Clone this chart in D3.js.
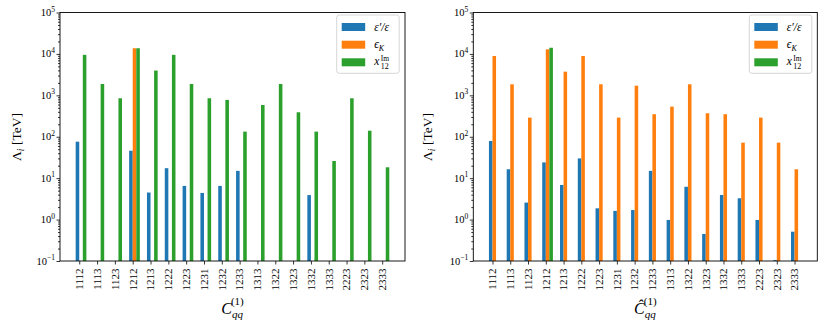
<!DOCTYPE html>
<html><head><meta charset="utf-8">
<script src="https://cdn.jsdelivr.net/npm/d3@7"></script>
<style>body{margin:0;background:#fff}svg{display:block}svg text{font-family:"Liberation Serif","DejaVu Serif","Times New Roman",Times,serif}</style>
</head><body><svg id="c" width="830" height="327"></svg>
<script>
const categories = ["1112","1113","1123","1212","1213","1222","1223","1231","1232","1233","1313","1322","1323","1332","1333","2223","2323","2333"];
// Left panel: C_qq^(1)
const leftEps   = [76,null,null,46,4.5,17.4,6.5,4.4,6.5,15,null,null,null,3.9,null,null,null,null];
const leftEpsK  = [null,null,null,13700,null,null,null,null,null,null,null,null,null,null,null,null,null,null];
const leftX12   = [9500,1880,850,13700,3970,9500,1880,850,776,133,585,1880,390,133,26,850,140,18.3];
// Right panel: hat C_qq^(1)
const rightEps  = [79,16.4,2.57,24,6.85,30,1.87,1.62,1.7,15,0.98,6.2,0.45,3.93,3.27,0.98,0.105,0.51];
const rightEpsK = [8900,1850,290,12900,3730,8900,1850,290,1710,350,533,1850,369,350,72,290,72,16.4];
const rightX12  = [null,null,null,14100,null,null,null,null,null,null,null,null,null,null,null,null,null,null];
const yTicks = [-1,0,1,2,3,4,5];
const colors = ["#1f77b4","#ff7f0e","#2ca02c"];

const svg = d3.select("#c");
const yTop = 12.5, yBot = 261;
const panels = [
  {x0:60, x1:405, series:[leftEps,leftEpsK,leftX12], ylab:16, xlabHat:false, legX:336.7},
  {x0:473.3, x1:817.3, series:[rightEps,rightEpsK,rightX12], ylab:427, xlabHat:true, legX:749.3}
];
const y = d3.scaleLog().domain([1e-1,1e5]).range([yBot,yTop]);

panels.forEach(p=>{
  const x = d3.scaleLinear().domain([-1.08,18.28]).range([p.x0,p.x1]);
  const g = svg.append("g");
  const bw = x(0.2)-x(0);
  const offs = [-0.2,0,0.2];
  p.series.forEach((s,k)=>{
    g.selectAll(null).data(s.map((v,i)=>({v,i})).filter(d=>d.v!=null)).enter()
      .append("rect")
      .attr("x",d=>x(d.i+offs[k])).attr("width",bw)
      .attr("y",d=>y(d.v)).attr("height",d=>yBot-y(d.v))
      .attr("fill",colors[k]);
  });
  g.append("rect").attr("x",p.x0).attr("y",yTop).attr("width",p.x1-p.x0).attr("height",yBot-yTop)
    .attr("fill","none").attr("stroke","#000").attr("stroke-width",0.9);
  const yAx = g.append("g").attr("transform",`translate(${p.x0},0)`)
    .call(d3.axisLeft(y).tickValues(yTicks.map(e=>Math.pow(10,e))).tickSize(3.5).tickFormat(""));
  yAx.select(".domain").remove();
  const minor = [];
  for(let e=-1;e<5;e++) for(let m=2;m<10;m++) minor.push(m*Math.pow(10,e));
  g.append("g").attr("transform",`translate(${p.x0},0)`)
    .call(d3.axisLeft(y).tickValues(minor).tickSize(2).tickFormat("")).select(".domain").remove();
  g.selectAll(".tick line").attr("stroke-width",0.8);
  yTicks.forEach(e=>{
    const t = g.append("text").attr("x",p.x0-5).attr("y",y(Math.pow(10,e))+3.5)
      .attr("text-anchor","end").attr("font-size",10.5);
    t.append("tspan").text("10");
    t.append("tspan").attr("dy",-4.5).attr("font-size",7.5).text(e<0?"\u2212"+(-e):String(e));
  });
  const xAx = g.append("g").attr("transform",`translate(0,${yBot})`)
    .call(d3.axisBottom(x).tickValues(d3.range(categories.length)).tickSize(3.5).tickFormat(""));
  xAx.select(".domain").remove();
  xAx.selectAll("line").attr("stroke-width",0.8);
  categories.forEach((c,i)=>{
    g.append("text").attr("transform",`translate(${x(i)+3.8},${yBot+7.5}) rotate(-90)`)
      .attr("text-anchor","end").attr("font-size",11).text(c);
  });
  const yl = g.append("text").attr("transform",`translate(${p.ylab+4.5},137) rotate(-90)`)
    .attr("text-anchor","middle").attr("font-size",13.5);
  yl.append("tspan").text("\u039B");
  yl.append("tspan").attr("font-style","italic").attr("font-size",9.5).attr("dy",3).text("i");
  yl.append("tspan").attr("dy",-3).text(" [TeV]");
  const cx = (p.x0+p.x1)/2;
  const xl = g.append("text").attr("x",cx).attr("y",313.5).attr("text-anchor","middle").attr("font-size",16);
  xl.append("tspan").attr("font-style","italic").text(p.xlabHat?"\u0108":"C");
  xl.append("tspan").attr("font-style","italic").attr("font-size",11).attr("dy",4).text("qq");
  xl.append("tspan").attr("font-size",11).attr("dx",-12).attr("dy",-13).text("(1)");
  const lx = p.legX;
  g.append("rect").attr("x",lx).attr("y",15).attr("width",62.5).attr("height",58.3).attr("rx",2.5)
    .attr("fill","#fff").attr("fill-opacity",0.8).attr("stroke","#ccc").attr("stroke-width",0.8);
  const cys = [27,44.7,62.3];
  colors.forEach((col,k)=>{
    g.append("rect").attr("x",lx+5).attr("y",cys[k]-4).attr("width",23.5).attr("height",8).attr("fill",col);
  });
  const tx = lx+37.5;
  g.append("text").attr("x",tx).attr("y",cys[0]+4).attr("font-size",11.5).attr("font-style","italic")
    .text("\u03B5\u2032/\u03B5");
  const l2 = g.append("text").attr("x",tx).attr("y",cys[1]+3.5).attr("font-size",11.5).attr("font-style","italic");
  l2.append("tspan").text("\u03F5");
  l2.append("tspan").attr("font-size",8).attr("dy",2.5).text("K");
  g.append("text").attr("x",tx).attr("y",cys[2]+3).attr("font-size",11.5).attr("font-style","italic").text("x");
  g.append("text").attr("x",tx+6.5).attr("y",cys[2]-1.5).attr("font-size",7.5).text("Im");
  g.append("text").attr("x",tx+6.5).attr("y",cys[2]+6.5).attr("font-size",8).text("12");
});
</script></body></html>
